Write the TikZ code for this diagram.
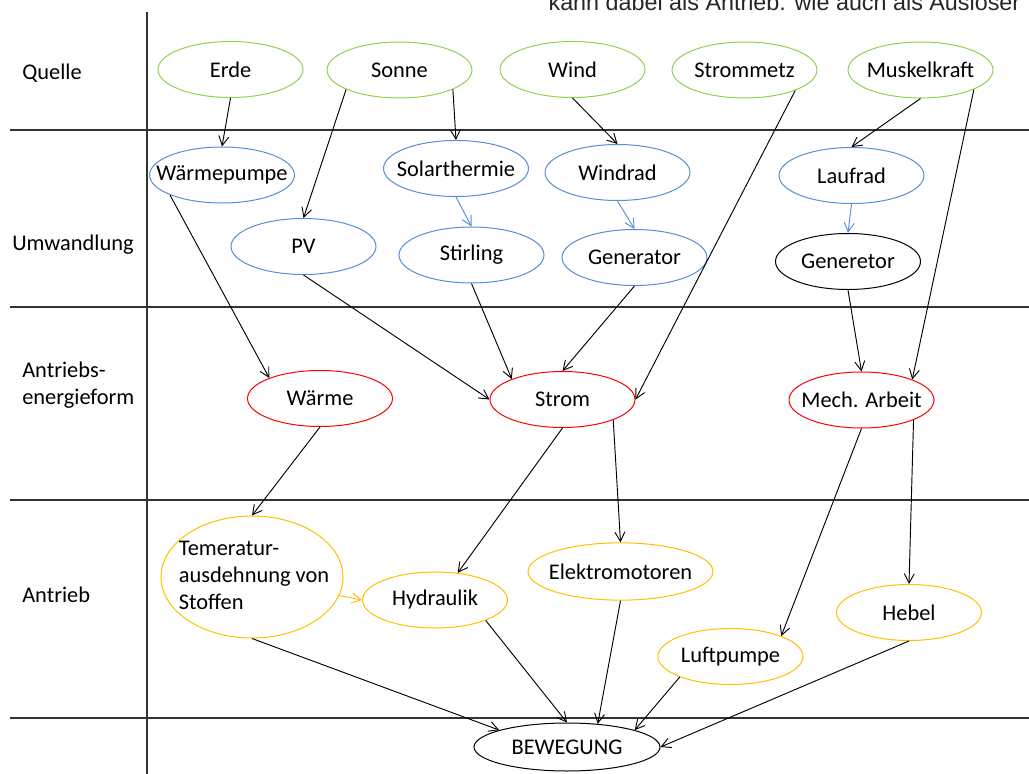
\documentclass[tikz,border=0pt]{standalone}
\usepackage{fontspec}
\setmainfont{Carlito}
\newfontfamily\arialfont{Liberation Sans}
\usepackage{tikz}
\usetikzlibrary{shapes.geometric, arrows.meta}
\definecolor{qgreen}{RGB}{146, 208, 80}
\definecolor{ublue}{RGB}{85, 142, 213}
\definecolor{ared}{RGB}{255, 0, 0}
\definecolor{tyellow}{RGB}{255, 192, 0}
% text that does not widen its ellipse
\newcommand{\etxt}[1]{\makebox[0pt]{#1}}

\begin{document}
\begin{tikzpicture}[x=0.75pt, y=-0.75pt,
    font=\fontsize{16.8}{20}\selectfont,
    >={Straight Barb[length=7pt, width=7.5pt]},
    blob/.style={ellipse, draw, line width=0.75pt, inner sep=0pt,
        minimum width=108.75pt, minimum height=42pt},
    quelle/.style={blob, draw=qgreen},
    umw/.style={blob, draw=ublue},
    form/.style={blob, draw=ared},
    antr/.style={blob, draw=tyellow},
    flow/.style={->, line width=0.7pt},
    rowlabel/.style={anchor=west, align=left, inner sep=0pt},
    divider/.style={black!80, line width=1pt}]
\useasboundingbox (0,0) rectangle (1029,774);

% rows
\draw[divider] (147,12) -- (147,774);
\foreach \yy in {130, 307, 500, 718}
    \draw[divider] (10,\yy) -- (1029,\yy);
\node[rowlabel] (lquelle) at (22,73) {Quelle};
\node[rowlabel] (lumw) at (12,245) {Umwandlung};
\node[rowlabel] (lform) at (22,385) {Antriebs-\\energieform};
\node[rowlabel] (lantr) at (22,595) {Antrieb};
\node[anchor=base east, font=\arialfont\fontsize{17.5}{20}\selectfont, text=black!85]
    (hinweis) at (1025,11) {kann dabei als Antrieb. wie auch als Auslöser};

% Quelle
\node[quelle] (erde) at (230.5,69.5) {\etxt{Erde}};
\node[quelle] (sonne) at (399.5,70) {\etxt{Sonne}};
\node[quelle] (wind) at (572.5,69.5) {\etxt{Wind}};
\node[quelle] (strommetz) at (744.5,70) {\etxt{Strommetz}};
\node[quelle] (muskel) at (920.5,70) {\etxt{Muskelkraft}};

% Umwandlung
\node[umw] (wpumpe) at (222,175) {\etxt{Wärmepumpe}};
\node[umw] (solarth) at (456,168.5) {\etxt{Solarthermie}};
\node[umw] (windrad) at (617.5,172.5) {\etxt{Windrad}};
\node[umw] (laufrad) at (851.5,175.5) {\etxt{Laufrad}};
\node[umw] (pv) at (303.5,246.5) {\etxt{PV}};
\node[umw] (stirling) at (471.5,255) {\etxt{Stirling}};
\node[umw] (generator) at (634.5,257.5) {\etxt{Generator}};
\node[blob] (generetor) at (848,261.5) {\etxt{Generetor}};

% Antriebsenergieform
\node[form] (waerme) at (320,398.5) {\etxt{Wärme}};
\node[form] (strom) at (562.5,399.5) {\etxt{Strom}};
\node[form] (mecharbeit) at (861.5,400) {\etxt{Mech. Arbeit}};

% Antrieb
\node[antr, minimum width=136.5pt, minimum height=91.5pt] (temerat) at (252,577)
    {\etxt{\raisebox{-3pt}{\hspace{3pt}\begin{tabular}{@{}l@{}}Temeratur-\\ausdehnung von\\Stoffen\end{tabular}}}};
\node[antr] (hydraulik) at (435,600) {\etxt{Hydraulik}};
\node[antr, minimum width=138.75pt, minimum height=43pt] (elektro) at (620.5,571.5) {\etxt{Elektromotoren}};
\node[antr] (hebel) at (909,612.5) {\etxt{Hebel}};
\node[antr] (luftpumpe) at (730.5,656.5) {\etxt{Luftpumpe}};

\node[blob, minimum width=139.5pt, minimum height=36pt] (bewegung) at (567,747) {\etxt{BEWEGUNG}};

% Quelle -> Umwandlung
\draw[flow] (erde.south) -- (wpumpe.north);
\draw[flow] (sonne.200) -- (pv.north);
\draw[flow] (sonne.340) -- (solarth.north);
\draw[flow] (wind.south) -- (windrad.north);
\draw[flow] (strommetz.338) -- (strom.east);
\draw[flow] (muskel.south) -- (laufrad.north);
\draw[flow] (muskel.340) -- (mecharbeit.22);
\draw[flow, ublue] (solarth.south) -- (stirling.north);
\draw[flow, ublue] (windrad.south) -- (generator.north);
\draw[flow, ublue] (laufrad.south) -- (generetor.north);

% Umwandlung -> Antriebsenergieform
\draw[flow] (wpumpe.201) -- (waerme.158);
\draw[flow] (pv.south) -- (strom.west);
\draw[flow] (stirling.south) -- (strom.158);
\draw[flow] (generator.south) -- (strom.north);
\draw[flow] (generetor.south) -- (mecharbeit.north);

% Antriebsenergieform -> Antrieb
\draw[flow] (waerme.south) -- (temerat.north);
\draw[flow] (strom.south) -- (hydraulik.50);
\draw[flow] (strom.338) -- (elektro.north);
\draw[flow] (mecharbeit.south) -- (luftpumpe.22);
\draw[flow] (mecharbeit.339) -- (hebel.north);
\draw[flow, tyellow] (temerat.348) -- (hydraulik.west);

% Antrieb -> Bewegung
\draw[flow] (temerat.south) -- (bewegung.166);
\draw[flow] (hydraulik.338) -- (bewegung.north);
\draw[flow] (elektro.south) -- (bewegung.37);
\draw[flow] (luftpumpe.202) -- (bewegung.14);
\draw[flow] (hebel.south) -- (bewegung.east);
\end{tikzpicture}
\end{document}
